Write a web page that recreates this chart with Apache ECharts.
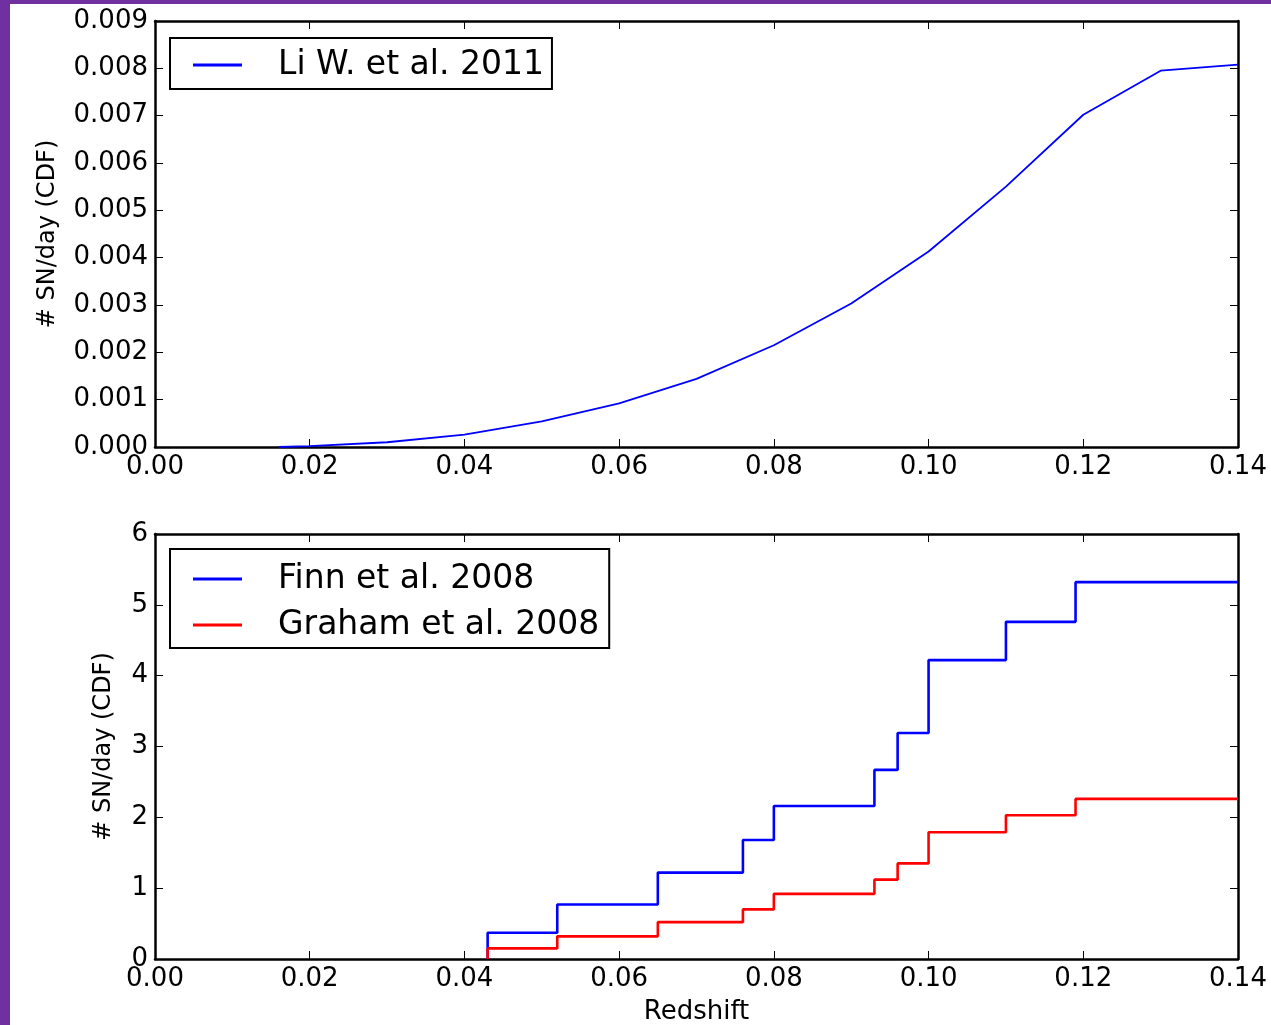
<!DOCTYPE html>
<html>
<head>
<meta charset="utf-8">
<script src="https://cdn.jsdelivr.net/npm/echarts@6/dist/echarts.min.js"></script>
<style>
    html, body { margin: 0; padding: 0; background: #fff; }
    #wrap {
        width: 1271px; height: 1025px; box-sizing: border-box;
        border-left: 10px solid #7030a0; border-top: 4px solid #7030a0;
    }
    #snChart { width: 1261px; height: 1021px; }
</style>
</head>
<body>
<div id="wrap"><div id="snChart"></div></div>
<script>
// top panel: Li W. et al. 2011 (redshift, cumulative SN/day)
var liZ = [0.016, 0.02, 0.03, 0.04, 0.05, 0.06, 0.07, 0.08, 0.09, 0.10, 0.11, 0.12, 0.13, 0.14];
var liCdf = [0, 0.00002, 0.0001, 0.00026, 0.00054, 0.00092, 0.00144, 0.00215, 0.00303, 0.00413, 0.0055, 0.00702, 0.00795, 0.00808];

// bottom panel: step CDFs
var stepZ = [0.043, 0.043, 0.052, 0.065, 0.076, 0.080, 0.093, 0.096, 0.100, 0.110, 0.119, 0.14];
var finnCdf = [0, 0.37, 0.77, 1.22, 1.68, 2.16, 2.67, 3.19, 4.22, 4.76, 5.32, 5.32];
var grahamCdf = [0, 0.15, 0.32, 0.52, 0.70, 0.92, 1.12, 1.35, 1.79, 2.03, 2.26, 2.26];

var xTicks = { min: 0, max: 0.14, interval: 0.02 };
var yTopTicks = { min: 0, max: 0.009, interval: 0.001 };
var yBotTicks = { min: 0, max: 6, interval: 1 };

function pairs(xs, ys) {
    var out = [];
    for (var i = 0; i < xs.length; i++) {
        out.push([xs[i], ys[i]]);
    }
    return out;
}

var FONT = 'DejaVu Sans';

// box-style axis: black frame, small ticks pointing inward
function mkAxis(extra, ticks, showLabel, digits) {
    var ax = {
        type: 'value',
        min: ticks.min,
        max: ticks.max,
        interval: ticks.interval,
        splitLine: { show: false },
        axisLine: { show: true, onZero: false, lineStyle: { color: '#000', width: 2.5 } },
        axisTick: { show: true, inside: true, length: 8, lineStyle: { color: '#000', width: 1 } },
        axisLabel: {
            show: showLabel,
            color: '#000',
            fontFamily: FONT,
            fontSize: 26,
            margin: 7,
            showMinLabel: true,
            showMaxLabel: true,
            formatter: function (v) { return v.toFixed(digits); }
        }
    };
    for (var k in extra) ax[k] = extra[k];
    return ax;
}

var legendText = { fontFamily: FONT, fontSize: 33, color: '#000', lineHeight: 34, padding: [0, 0, 0, 31] };

function init() {
    var chart = echarts.init(document.getElementById('snChart')),
    option = {
        animation: false,
        backgroundColor: '#fff',
        grid: [
            { left: 145, top: 17, width: 1083, height: 426, containLabel: false, outerBoundsMode: 'none' },
            { left: 145, top: 530, width: 1083, height: 425, containLabel: false, outerBoundsMode: 'none' }
        ],
        legend: [{
            left: 160,
            top: 34,
            data: ['Li W. et al. 2011'],
            icon: 'rect',
            borderColor: '#000',
            borderWidth: 2,
            borderRadius: 0,
            padding: [10, 8, 7, 23],
            itemWidth: 49,
            itemHeight: 3,
            textStyle: legendText
        }, {
            left: 160,
            top: 545,
            orient: 'vertical',
            itemGap: 12,
            icon: 'rect',
            data: ['Finn et al. 2008', 'Graham et al. 2008'],
            borderColor: '#000',
            borderWidth: 2,
            borderRadius: 0,
            padding: [13, 10, 6, 23],
            itemWidth: 49,
            itemHeight: 3,
            textStyle: legendText
        }],
        xAxis: [
            mkAxis({ gridIndex: 0, position: 'bottom' }, xTicks, true, 2),
            mkAxis({ gridIndex: 0, position: 'top' }, xTicks, false, 2),
            mkAxis({
                gridIndex: 1, position: 'bottom',
                name: 'Redshift', nameLocation: 'middle', nameGap: 40,
                nameTextStyle: { fontFamily: FONT, fontSize: 26, color: '#000' }
            }, xTicks, true, 2),
            mkAxis({ gridIndex: 1, position: 'top' }, xTicks, false, 2)
        ],
        yAxis: [
            mkAxis({
                gridIndex: 0, position: 'left',
                name: '# SN/day (CDF)', nameLocation: 'middle', nameGap: 95,
                nameTextStyle: { fontFamily: FONT, fontSize: 24, color: '#000' }
            }, yTopTicks, true, 3),
            mkAxis({ gridIndex: 0, position: 'right' }, yTopTicks, false, 3),
            mkAxis({
                gridIndex: 1, position: 'left',
                name: '# SN/day (CDF)', nameLocation: 'middle', nameGap: 39,
                nameTextStyle: { fontFamily: FONT, fontSize: 24, color: '#000' }
            }, yBotTicks, true, 0),
            mkAxis({ gridIndex: 1, position: 'right' }, yBotTicks, false, 0)
        ],
        series: [{
            name: 'Li W. et al. 2011',
            type: 'line',
            xAxisIndex: 0,
            yAxisIndex: 0,
            symbol: 'none',
            color: '#0000ff',
            lineStyle: { color: '#0000ff', width: 1.8 },
            data: pairs(liZ, liCdf)
        }, {
            name: 'Finn et al. 2008',
            type: 'line',
            step: 'end',
            xAxisIndex: 2,
            yAxisIndex: 2,
            symbol: 'none',
            color: '#0000ff',
            lineStyle: { color: '#0000ff', width: 2.6 },
            data: pairs(stepZ, finnCdf)
        }, {
            name: 'Graham et al. 2008',
            type: 'line',
            step: 'end',
            xAxisIndex: 2,
            yAxisIndex: 2,
            symbol: 'none',
            color: '#ff0000',
            lineStyle: { color: '#ff0000', width: 2.6 },
            data: pairs(stepZ, grahamCdf)
        }]
    };
    chart.setOption(option);
    window.addEventListener('resize', chart.resize);
}

init();
</script>
</body>
</html>
